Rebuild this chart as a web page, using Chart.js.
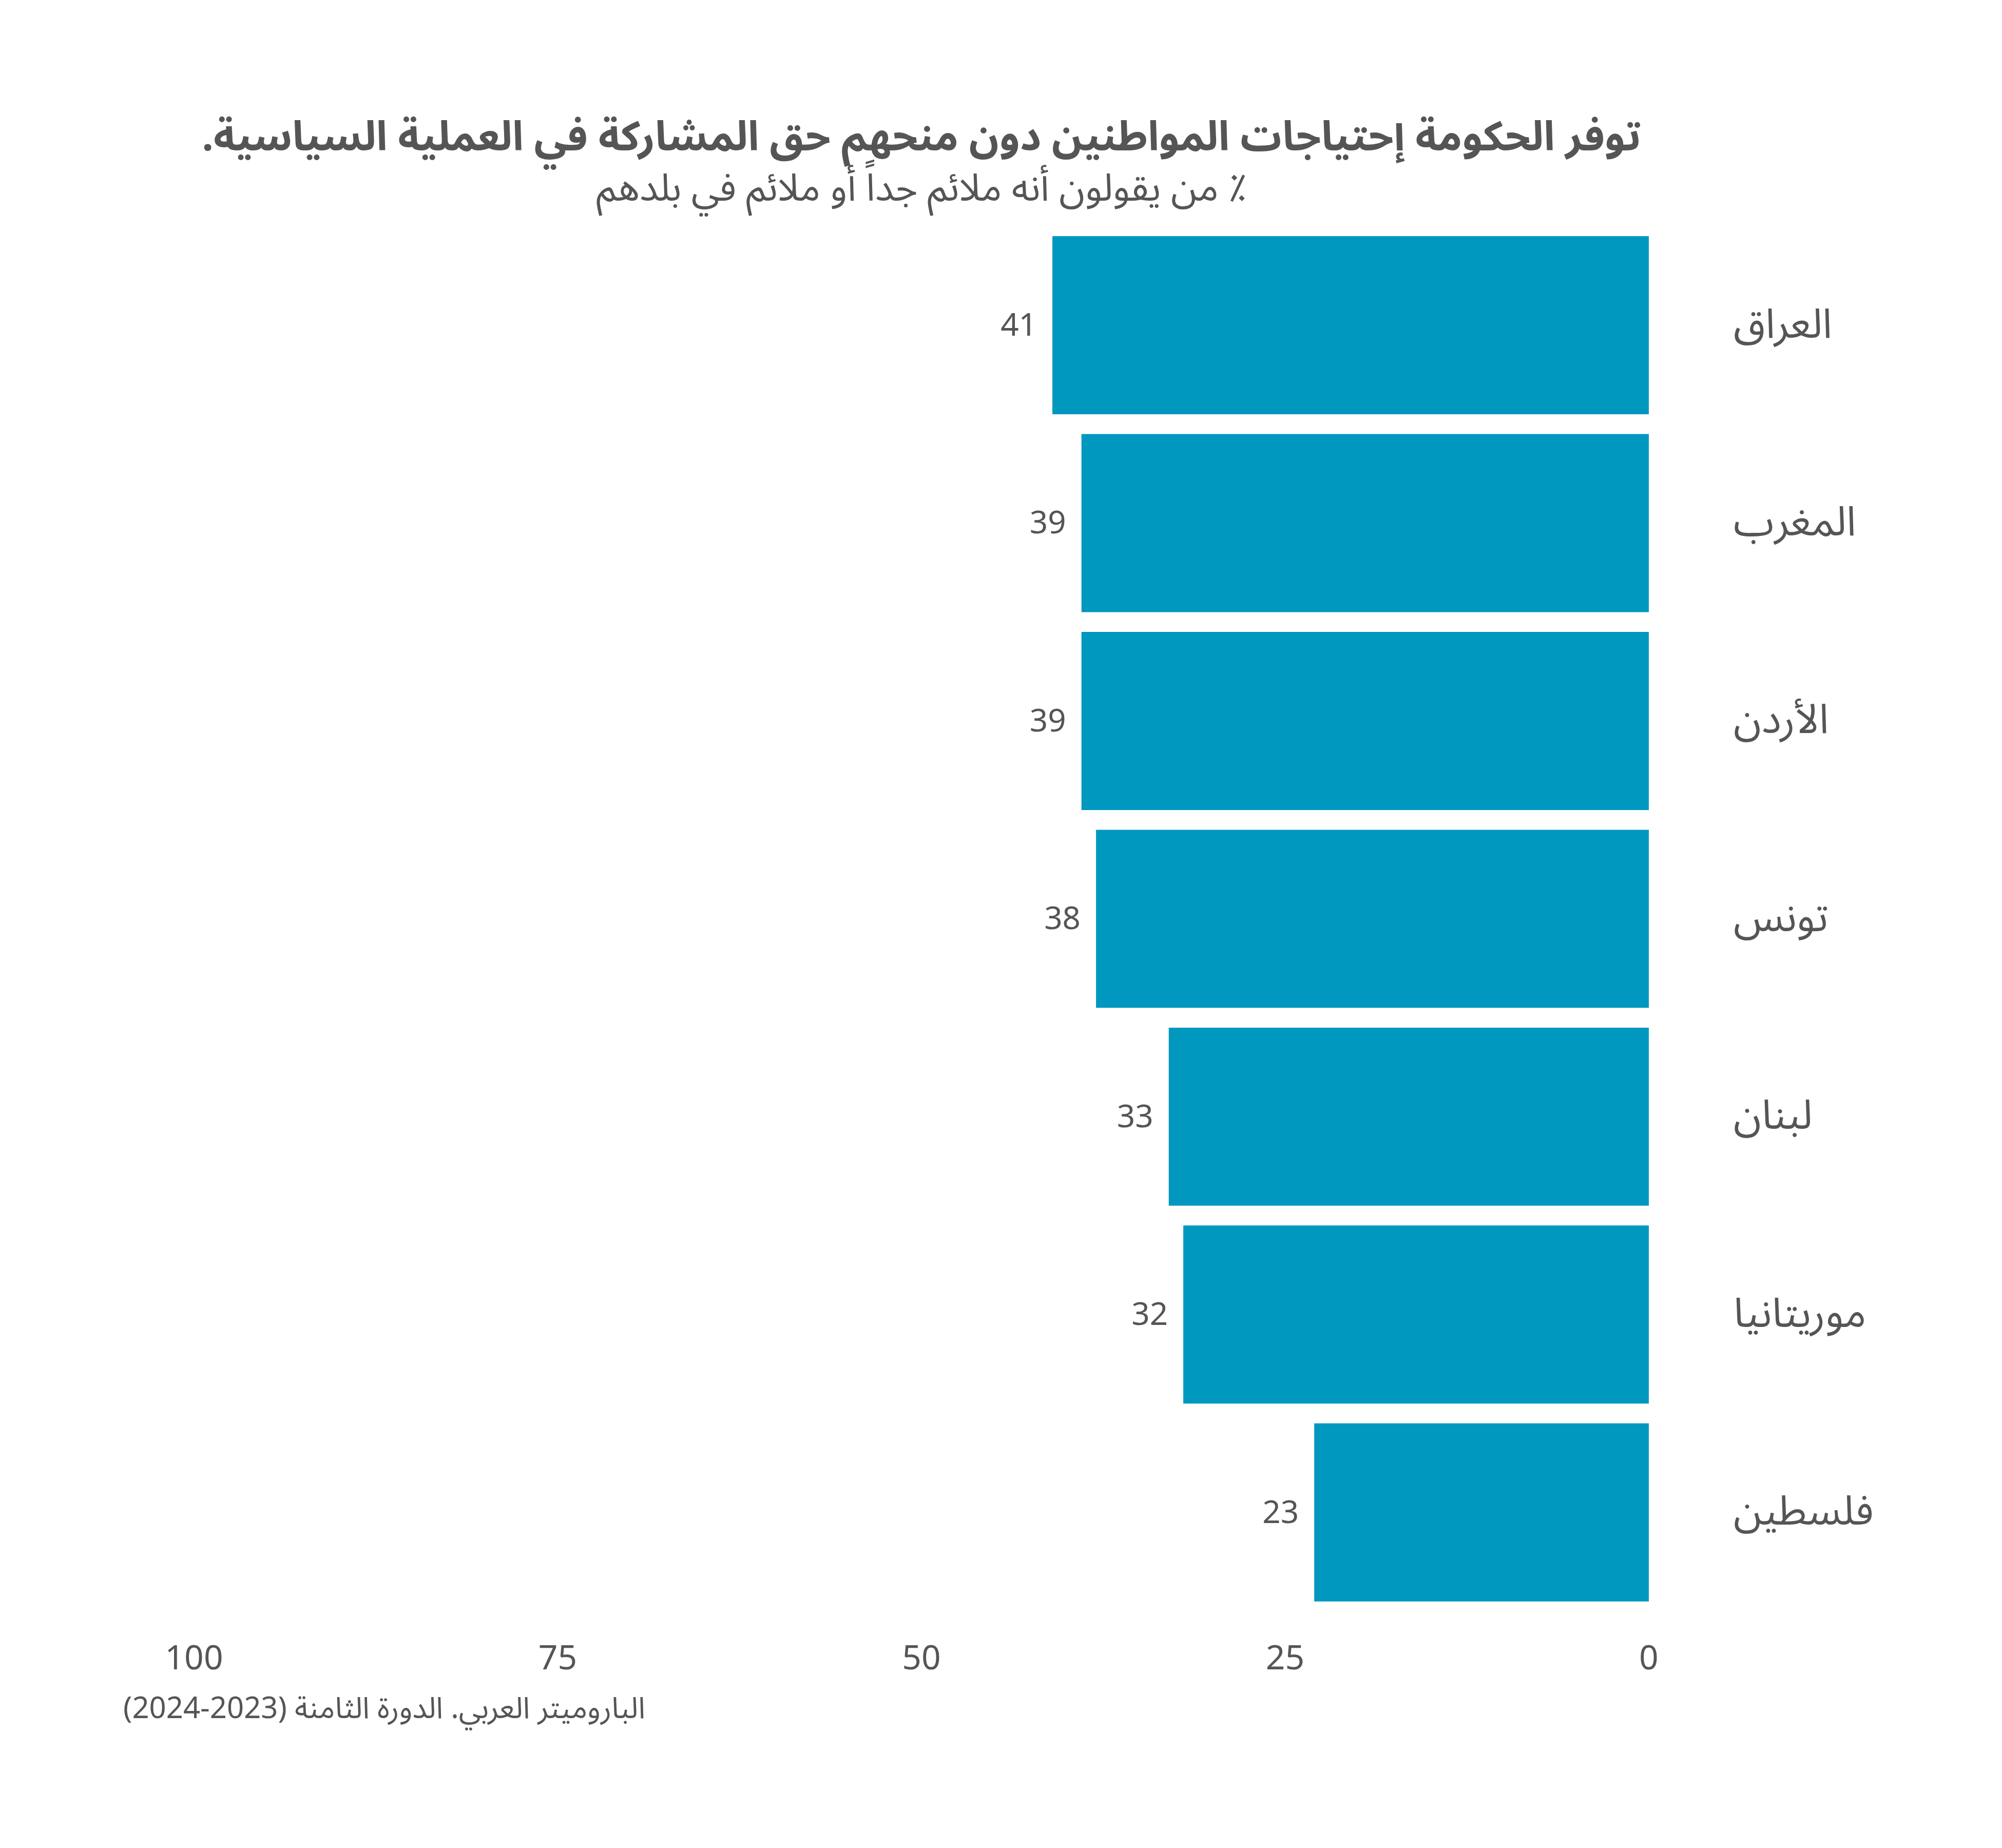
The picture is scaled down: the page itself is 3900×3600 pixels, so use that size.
<!DOCTYPE html>
<html lang="ar">
<head>
<meta charset="utf-8">
<script src="https://cdn.jsdelivr.net/npm/chart.js@4/dist/chart.umd.min.js"></script>
<style>
body { margin: 0; background: #fff; }
</style>
</head>
<body>
<canvas id="barChart" dir="rtl" width="3900" height="3600"></canvas>
<script>
// data
const countries = ["العراق", "المغرب", "الأردن", "تونس", "لبنان", "موريتانيا", "فلسطين"];
const shares = [41, 39, 39, 38, 33, 32, 23];
const xTicks = [0, 25, 50, 75, 100];

const titleText = "توفر الحكومة إحتياجات المواطنين دون منحهم حق المشاركة في العملية السياسية.";
const subtitleText = "٪ من يقولون أنه ملائم جداً أو ملائم في بلدهم";
const sourceText = "الباروميتر العربي. الدورة الثامنة (2023\u20112024)";

const fontFamily = "'Noto Sans Arabic', 'Noto Sans', sans-serif";
const textColor = "#555555";
const barColor = "#0098bf";

// numbers at the end of each bar
const valueLabels = {
  id: 'valueLabels',
  afterDatasetsDraw(chart) {
    const ctx = chart.ctx;
    const meta = chart.getDatasetMeta(0);
    ctx.save();
    ctx.font = "62px " + fontFamily;
    ctx.fillStyle = textColor;
    ctx.textAlign = "right";
    ctx.textBaseline = "middle";
    meta.data.forEach((bar, i) => {
      ctx.fillText(String(shares[i]), bar.x - 30, bar.y + 11);
    });
    ctx.restore();
  }
};

// source line under the axis
const sourceNote = {
  id: 'sourceNote',
  afterDraw(chart) {
    const ctx = chart.ctx;
    ctx.save();
    ctx.font = "58px " + fontFamily;
    ctx.fillStyle = textColor;
    ctx.direction = "rtl";
    ctx.textAlign = "left";
    ctx.textBaseline = "middle";
    ctx.fillText(sourceText, 240, 3338);
    ctx.restore();
  }
};

const bgWhite = {
  id: 'bgWhite',
  beforeDraw(chart) {
    const ctx = chart.ctx;
    ctx.save();
    ctx.fillStyle = "#fff";
    ctx.fillRect(0, 0, chart.width, chart.height);
    ctx.restore();
  }
};

const ctx = document.getElementById('barChart').getContext('2d');
new Chart(ctx, {
  type: 'bar',
  data: {
    labels: countries,
    datasets: [{
      data: shares,
      backgroundColor: barColor,
      borderWidth: 0,
      barPercentage: 0.9,
      categoryPercentage: 1
    }]
  },
  options: {
    indexAxis: 'y',
    responsive: false,
    animation: false,
    layout: { padding: { left: 378, right: 0, top: 0, bottom: 0 } },
    plugins: {
      legend: { display: false },
      tooltip: { enabled: false },
      title: {
        display: true,
        text: titleText,
        fullSize: false,
        color: textColor,
        font: { family: fontFamily, size: 80, weight: 'bold' },
        padding: { top: 233, bottom: 6 }
      },
      subtitle: {
        display: true,
        text: subtitleText,
        fullSize: false,
        color: textColor,
        font: { family: fontFamily, size: 74 },
        padding: { top: 0, bottom: 17 }
      }
    },
    scales: {
      x: {
        type: 'linear',
        reverse: true,
        min: 0,
        max: 100,
        afterBuildTicks(scale) {
          scale.ticks = xTicks.map(v => ({ value: v }));
        },
        afterFit(scale) { scale.height = 461; },
        grid: { display: false },
        border: { display: false },
        ticks: {
          color: textColor,
          font: { family: fontFamily, size: 66 },
          padding: 55,
          maxRotation: 0
        }
      },
      y: {
        position: 'right',
        afterFit(scale) { scale.width = 688; },
        grid: { display: false },
        border: { display: false },
        ticks: {
          color: textColor,
          font: { family: fontFamily, size: 80 },
          padding: 157,
          labelOffset: 12
        }
      }
    }
  },
  plugins: [bgWhite, valueLabels, sourceNote]
});
</script>
</body>
</html>
